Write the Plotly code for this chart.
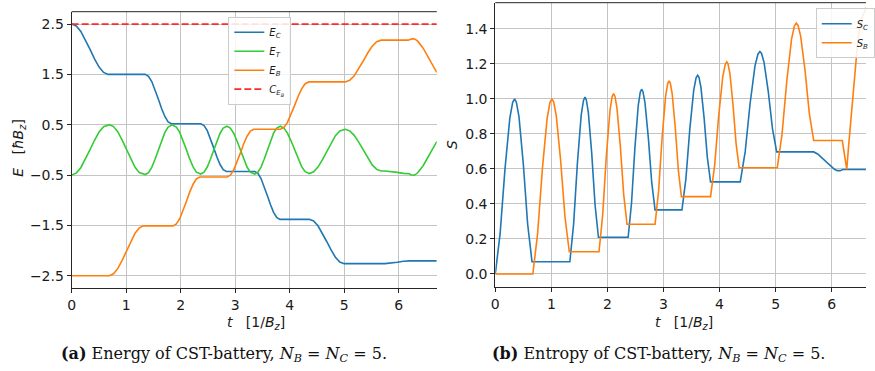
import plotly.graph_objects as go

# ---------------- data ----------------
# Energy panel
t_EC = [0, 0.084, 0.168, 0.251, 0.335, 0.419, 0.503, 0.586, 0.67,
        1.35, 1.41, 1.47, 1.53, 1.59, 1.65, 1.71, 1.77, 1.83,
        2.37, 2.429, 2.488, 2.546, 2.605, 2.664, 2.723, 2.781, 2.84,
        3.36, 3.4175, 3.475, 3.5325, 3.59, 3.6475, 3.705, 3.7625, 3.82,
        4.36, 4.44, 4.52, 4.60, 4.68, 4.76, 4.84, 4.92, 5.0,
        5.75, 5.86, 5.975, 6.09, 6.2, 6.7]
E_C = [2.5, 2.462, 2.354, 2.191, 2.0, 1.809, 1.646, 1.538, 1.5,
       1.5, 1.463, 1.357, 1.197, 1.01, 0.823, 0.663, 0.557, 0.52,
       0.52, 0.484, 0.381, 0.226, 0.045, -0.136, -0.291, -0.394, -0.43,
       -0.43, -0.466, -0.569, -0.724, -0.905, -1.086, -1.241, -1.344, -1.38,
       -1.38, -1.413, -1.508, -1.652, -1.82, -1.988, -2.132, -2.227, -2.26,
       -2.26, -2.252, -2.2325, -2.213, -2.205, -2.205]

t_EB = [0, 0.69, 0.769, 0.848, 0.926, 1.005, 1.084, 1.163, 1.241, 1.32,
        1.86, 1.921, 1.983, 2.044, 2.105, 2.166, 2.228, 2.289, 2.35,
        2.85, 2.911, 2.973, 3.034, 3.095, 3.156, 3.218, 3.279, 3.34,
        3.83, 3.895, 3.96, 4.025, 4.09, 4.155, 4.22, 4.285, 4.35,
        5.02, 5.1025, 5.185, 5.2675, 5.35, 5.4325, 5.515, 5.5975, 5.68,
        6.17, 6.22, 6.26, 6.30, 6.35, 6.45, 6.55, 6.65, 6.7]
E_B = [-2.5, -2.5, -2.462, -2.355, -2.194, -2.005, -1.816, -1.655, -1.548, -1.51,
       -1.51, -1.473, -1.368, -1.21, -1.025, -0.84, -0.682, -0.577, -0.54,
       -0.54, -0.504, -0.401, -0.246, -0.065, 0.116, 0.271, 0.374, 0.41,
       0.41, 0.446, 0.547, 0.70, 0.88, 1.06, 1.213, 1.314, 1.35,
       1.35, 1.382, 1.471, 1.606, 1.765, 1.924, 2.059, 2.148, 2.18,
       2.18, 2.20, 2.21, 2.20, 2.16, 2.02, 1.83, 1.63, 1.54]

t_ET = [0, 0.084, 0.168, 0.251, 0.335, 0.419, 0.503, 0.586, 0.67,
        0.69, 0.769, 0.848, 0.926, 1.005, 1.084, 1.163, 1.241, 1.32,
        1.35, 1.41, 1.47, 1.53, 1.59, 1.65, 1.71, 1.77, 1.83,
        1.86, 1.921, 1.983, 2.044, 2.105, 2.166, 2.228, 2.289, 2.35,
        2.37, 2.429, 2.488, 2.546, 2.605, 2.664, 2.723, 2.781, 2.84,
        2.85, 2.911, 2.973, 3.034, 3.095, 3.156, 3.218, 3.279, 3.34,
        3.36, 3.4175, 3.475, 3.5325, 3.59, 3.6475, 3.705, 3.7625, 3.82,
        3.83, 3.895, 3.96, 4.025, 4.09, 4.155, 4.22, 4.285, 4.35,
        4.36, 4.44, 4.52, 4.60, 4.68, 4.76, 4.84, 4.92, 5.0,
        5.02, 5.1025, 5.185, 5.2675, 5.35, 5.4325, 5.515, 5.5975, 5.68,
        5.75, 5.86, 5.975, 6.09, 6.2, 6.22, 6.26, 6.30, 6.35, 6.45, 6.55, 6.65, 6.7]
E_T = [-0.5, -0.462, -0.354, -0.191, 0.0, 0.191, 0.354, 0.462, 0.5,
       0.5, 0.462, 0.355, 0.194, 0.005, -0.184, -0.345, -0.452, -0.49,
       -0.49, -0.453, -0.347, -0.187, 0.0, 0.187, 0.347, 0.453, 0.49,
       0.49, 0.453, 0.348, 0.19, 0.005, -0.18, -0.338, -0.443, -0.48,
       -0.48, -0.444, -0.341, -0.186, -0.005, 0.176, 0.331, 0.434, 0.47,
       0.47, 0.434, 0.331, 0.176, -0.005, -0.186, -0.341, -0.444, -0.48,
       -0.48, -0.444, -0.341, -0.186, -0.005, 0.176, 0.331, 0.434, 0.47,
       0.47, 0.434, 0.333, 0.18, 0.0, -0.18, -0.333, -0.434, -0.47,
       -0.47, -0.437, -0.342, -0.198, -0.03, 0.138, 0.282, 0.377, 0.41,
       0.41, 0.378, 0.289, 0.154, -0.005, -0.164, -0.299, -0.388, -0.42,
       -0.42, -0.428, -0.4475, -0.467, -0.475, -0.495, -0.505, -0.495, -0.455, -0.315, -0.125, 0.075, 0.165]

t_cap = [0, 6.7]
C_EB = [2.5, 2.5]

# Entropy panel
t_SC = [0, 0.086, 0.173, 0.259, 0.31, 0.345, 0.376, 0.4225, 0.50, 0.5775, 0.655,
        1.33, 1.3975, 1.465, 1.5325, 1.573, 1.60, 1.624, 1.66, 1.72, 1.78, 1.84,
        2.37, 2.43, 2.49, 2.55, 2.586, 2.61, 2.634, 2.67, 2.73, 2.79, 2.85,
        3.33, 3.40, 3.47, 3.54, 3.582, 3.61, 3.633, 3.6675, 3.725, 3.7825, 3.84,
        4.37, 4.4575, 4.545, 4.6325, 4.685, 4.72, 4.75, 4.795, 4.87, 4.945, 5.02,
        5.68, 5.75, 5.85, 5.95, 6.05, 6.10, 6.15, 6.20, 6.7]
S_C = [0.0, 0.23, 0.60, 0.89, 0.98, 1.0, 0.981, 0.898, 0.628, 0.284, 0.07,
       0.07, 0.286, 0.634, 0.907, 0.991, 1.01, 0.994, 0.922, 0.69, 0.394, 0.21,
       0.21, 0.404, 0.717, 0.962, 1.038, 1.055, 1.041, 0.979, 0.779, 0.524, 0.366,
       0.366, 0.543, 0.827, 1.05, 1.12, 1.135, 1.123, 1.068, 0.891, 0.666, 0.526,
       0.526, 0.697, 0.972, 1.188, 1.255, 1.27, 1.259, 1.207, 1.041, 0.829, 0.697,
       0.697, 0.685, 0.655, 0.625, 0.598, 0.59, 0.59, 0.597, 0.597]

t_SB = [0, 0.67, 0.755, 0.84, 0.925, 0.976, 1.01, 1.041, 1.0875, 1.165, 1.2425, 1.32,
        1.85, 1.915, 1.98, 2.045, 2.084, 2.11, 2.134, 2.17, 2.23, 2.29, 2.35,
        2.85, 2.9125, 2.975, 3.0375, 3.075, 3.10, 3.122, 3.155, 3.21, 3.265, 3.32,
        3.84, 3.9125, 3.985, 4.0575, 4.101, 4.13, 4.152, 4.185, 4.24, 4.295, 4.35,
        5.03, 5.115, 5.20, 5.285, 5.336, 5.37, 5.401, 5.4475, 5.525, 5.6025, 5.68,
        6.19, 6.27, 6.30, 6.35, 6.40, 6.45, 6.50, 6.55, 6.62, 6.7]
S_B = [0.0, 0.0, 0.23, 0.60, 0.89, 0.98, 1.0, 0.983, 0.904, 0.651, 0.328, 0.127,
       0.127, 0.335, 0.669, 0.931, 1.012, 1.03, 1.015, 0.948, 0.732, 0.456, 0.284,
       0.284, 0.472, 0.775, 1.013, 1.087, 1.103, 1.09, 1.03, 0.839, 0.594, 0.442,
       0.442, 0.619, 0.903, 1.126, 1.196, 1.211, 1.199, 1.145, 0.969, 0.746, 0.607,
       0.607, 0.797, 1.102, 1.341, 1.416, 1.432, 1.419, 1.358, 1.164, 0.916, 0.762,
       0.762, 0.597, 0.72, 0.92, 1.10, 1.27, 1.41, 1.47, 1.52, 1.56]

E_ticks = [2.5, 1.5, 0.5, -0.5, -1.5, -2.5]
S_ticks = [0.0, 0.2, 0.4, 0.6, 0.8, 1.0, 1.2, 1.4]
t_ticks = [0, 1, 2, 3, 4, 5, 6]

# ---------------- figure ----------------
W, H = 875, 371
def px(x):
    return x / W
def py(y):
    return 1 - y / H

BLUE, GREEN, ORANGE, RED = "#1f77b4", "#33cc33", "#ff7f0e", "#ff2a2a"
FONT = "DejaVu Sans"
GRID = "#c4c4c4"
AX = "#262626"

fig = go.Figure()
lw = 1.6
fig.add_trace(go.Scatter(x=t_EC, y=E_C, mode="lines", line=dict(color=BLUE, width=lw),
                         name="<i>E</i><sub><i>C</i></sub>", xaxis="x", yaxis="y", legend="legend"))
fig.add_trace(go.Scatter(x=t_ET, y=E_T, mode="lines", line=dict(color=GREEN, width=lw),
                         name="<i>E</i><sub><i>T</i></sub>", xaxis="x", yaxis="y", legend="legend"))
fig.add_trace(go.Scatter(x=t_EB, y=E_B, mode="lines", line=dict(color=ORANGE, width=lw),
                         name="<i>E</i><sub><i>B</i></sub>", xaxis="x", yaxis="y", legend="legend"))
fig.add_trace(go.Scatter(x=t_cap, y=C_EB, mode="lines", line=dict(color=RED, width=1.8, dash="7px,3px"),
                         name="<i>C</i><sub><i>E<sub>B</sub></i></sub>", xaxis="x", yaxis="y", legend="legend"))
fig.add_trace(go.Scatter(x=t_SC, y=S_C, mode="lines", line=dict(color=BLUE, width=lw),
                         name="<i>S</i><sub><i>C</i></sub>", xaxis="x2", yaxis="y2", legend="legend2"))
fig.add_trace(go.Scatter(x=t_SB, y=S_B, mode="lines", line=dict(color=ORANGE, width=lw),
                         name="<i>S</i><sub><i>B</i></sub>", xaxis="x2", yaxis="y2", legend="legend2"))

common_axis = dict(showline=True, linecolor=AX, linewidth=1, ticks="outside", ticklen=4,
                   tickwidth=1, tickcolor=AX, showgrid=True, gridcolor=GRID, gridwidth=1,
                   zeroline=False, tickfont=dict(family=FONT, size=14, color="#1a1a1a"),
                   mirror=False)

fig.update_layout(
    width=W, height=H, autosize=False,
    margin=dict(l=0, r=0, t=0, b=0),
    paper_bgcolor="white", plot_bgcolor="white",
    xaxis=dict(domain=[px(68.7), px(439.3)], range=[0, 6.70], tickvals=t_ticks, anchor="y", **common_axis),
    yaxis=dict(domain=[py(288.3), py(11.7)], range=[-2.75, 2.745], tickvals=E_ticks,
               ticktext=[f"{v:.1f}".replace("-", "\u2212") for v in E_ticks], anchor="x", **common_axis),
    xaxis2=dict(domain=[px(498.7), 1.0], range=[0, 6.613], tickvals=t_ticks, anchor="y2", **common_axis),
    yaxis2=dict(domain=[py(287.3), py(2.7)], range=[-0.076, 1.549], tickvals=S_ticks,
                ticktext=[f"{v:.1f}" for v in S_ticks], anchor="x2", **common_axis),
    legend=dict(x=px(227.7), y=py(16.7), xanchor="left", yanchor="top",
                bgcolor="rgba(255,255,255,0.85)", bordercolor="#cccccc", borderwidth=1,
                font=dict(family=FONT, size=10, color="#1a1a1a"), tracegroupgap=0,
                itemwidth=30),
    legend2=dict(x=px(824), y=py(8.3), xanchor="left", yanchor="top",
                 bgcolor="rgba(255,255,255,0.85)", bordercolor="#cccccc", borderwidth=1,
                 font=dict(family=FONT, size=10, color="#1a1a1a"), tracegroupgap=0,
                 itemwidth=30),
    showlegend=True,
)

# top spines
for xr, yr in (("x domain", "y domain"), ("x2 domain", "y2 domain")):
    fig.add_shape(type="line", xref=xr, yref=yr, x0=0, x1=1, y0=1, y1=1,
                  line=dict(color=AX, width=1), layer="above")

lab_font = dict(family=FONT, size=14, color="#1a1a1a")
cap_font = dict(family="DejaVu Serif", size=16, color="#111")
ann = [
    dict(x=px(15), y=py(148), text="<i>E</i>   [<i>ħB</i><sub><i>z</i></sub>]", textangle=-90, font=lab_font),
    dict(x=px(455), y=py(145), text="<i>S</i>", textangle=-90, font=lab_font),
    dict(x=px(256), y=py(323), text="<i>t</i>   [1/<i>B</i><sub><i>z</i></sub>]", font=lab_font),
    dict(x=px(690), y=py(323), text="<i>t</i>   [1/<i>B</i><sub><i>z</i></sub>]", font=lab_font),
    dict(x=px(223), y=py(354), text="<b>(a)</b> Energy of CST-battery, <i>N</i><sub><i>B</i></sub> = <i>N</i><sub><i>C</i></sub> = 5.",
         font=cap_font),
    dict(x=px(664), y=py(354), text="<b>(b)</b> Entropy of CST-battery, <i>N</i><sub><i>B</i></sub> = <i>N</i><sub><i>C</i></sub> = 5.",
         font=cap_font),
]
for a in ann:
    fig.add_annotation(xref="paper", yref="paper", showarrow=False, xanchor="center", yanchor="middle", **a)

fig.write_html("out.html")
